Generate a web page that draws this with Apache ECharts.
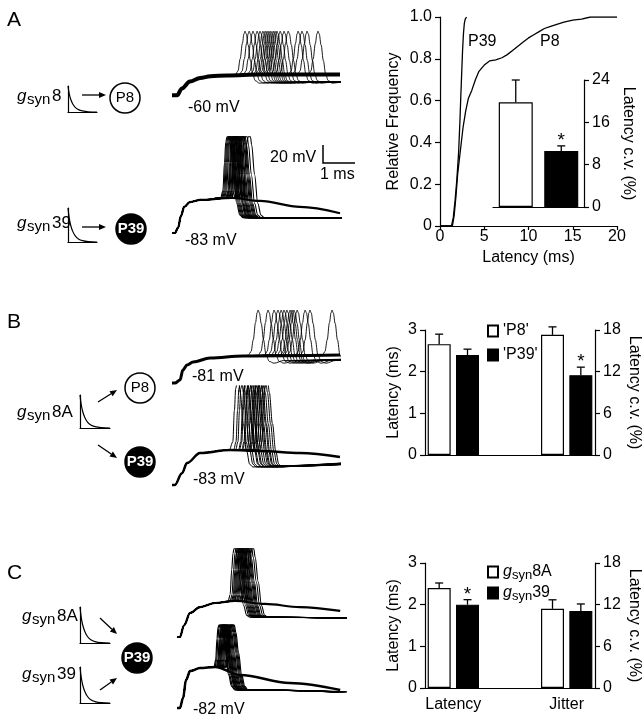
<!DOCTYPE html>
<html><head><meta charset="utf-8">
<script src="https://cdn.jsdelivr.net/npm/echarts@6.0.0/dist/echarts.min.js"></script>
<style>html,body{margin:0;padding:0;background:#fff;}#chart{width:643px;height:720px;}</style>
</head><body><div id="chart"></div>
<script>
const FONT = "'Liberation Sans', Arial, Helvetica, sans-serif";

// ---------- Panel A: cumulative latency distributions (latency ms, relative frequency) ----------
const cdfP39 = [[0,0],[1.3,0],[1.5,0.04],[1.7,0.12],[1.9,0.22],[2.1,0.35],[2.25,0.5],[2.35,0.62],[2.45,0.73],[2.55,0.84],[2.65,0.92],[2.75,0.97],[2.85,0.99],[3.0,1.0]];
const cdfP8 = [[0,0],[1.4,0],[1.6,0.05],[1.8,0.14],[2.0,0.25],[2.3,0.36],[2.6,0.47],[2.9,0.55],[3.2,0.61],[3.6,0.65],[4.0,0.7],[4.4,0.74],[5.0,0.77],[5.6,0.79],[6.3,0.795],[7.0,0.805],[7.6,0.82],[8.2,0.84],[8.8,0.86],[9.4,0.88],[10.0,0.9],[10.6,0.915],[11.2,0.93],[11.8,0.945],[12.5,0.955],[13.2,0.965],[14.0,0.975],[15.0,0.985],[16.0,0.99],[17.0,1.0],[20,1.0]];
const cdfNames = ['P39', 'P8'];
// inset: latency c.v. (%)
const insetGroups = ['P8', 'P39'];
const insetCV = [19.8, 10.6];
const insetCVErr = [4.2, 0.95];
const insetSig = [0, 1];

// ---------- Panel B ----------
const bNames = ["'P8'", "'P39'"];
const bLatency = [2.66, 2.40];
const bLatencyErr = [0.24, 0.14];
const bCV = [17.3, 11.5];
const bCVErr = [1.15, 1.15];
const bLatencySig = [0, 0];
const bCVSig = [0, 1];

// ---------- Panel C ----------
const cNames = ['gsyn8A', 'gsyn39'];
const cLatency = [2.40, 2.00];
const cLatencyErr = [0.12, 0.12];
const cCV = [11.4, 11.1];
const cCVErr = [1.3, 1.0];
const cLatencySig = [0, 1];
const cCVSig = [0, 0];
const groupLabels = ['Latency', 'Jitter'];

// ---------- Voltage traces: time (ms) vs membrane potential (mV) ----------
const restPotentials = [-60, -83, -81, -83, -83, -82];
const restLabels = ['-60 mV', '-83 mV', '-81 mV', '-83 mV', null, '-82 mV'];
// subthreshold (EPSP) waveforms
const baseA1 = [[0,-60],[0.16,-60],[0.31,-52],[0.56,-44],[0.88,-40],[1.2,-38],[1.72,-37],[2.75,-36],[5.25,-36]];
const baseA2 = [[0,-83],[0.09,-83],[0.19,-77],[0.28,-64],[0.38,-54],[0.56,-48.6],[0.88,-46.3],[1.88,-44.1],[2.75,-47.4],[4,-54],[5.25,-61]];
const baseB1 = [[0,-81],[0.09,-81],[0.25,-77.7],[0.34,-66.6],[0.47,-61],[0.66,-57.7],[1.19,-53.2],[2.22,-51],[5.25,-50]];
const baseB2 = [[0,-83],[0.09,-83],[0.31,-70],[0.47,-58.6],[0.88,-47.4],[1.81,-44.1],[2.75,-45.2],[4,-47.4],[5.25,-52]];
const baseC1 = [[0,-83],[0.09,-83],[0.22,-70],[0.41,-56.3],[0.72,-49.7],[1.19,-45.2],[1.81,-43],[2.75,-46.3],[3.84,-49.7],[5.1,-54]];
const baseC2 = [[0,-82],[0.09,-82],[0.19,-71],[0.28,-51],[0.41,-41],[0.72,-37.6],[1.19,-36.4],[1.97,-45.3],[3.53,-54.2],[5.1,-62]];
// spike waveforms, time relative to spike peak
const spikeA1 = [[-0.3,-36],[-0.22,-32],[-0.15,-18],[-0.08,0],[-0.03,11],[0,14],[0.04,11],[0.1,-2],[0.17,-20],[0.24,-35],[0.32,-43],[0.45,-46],[0.7,-45],[3.5,-44]];
const spikeA2 = [[-0.2,-44],[-0.13,-36],[-0.08,-5],[-0.04,18],[0,24],[0.07,24],[0.11,15],[0.2,-18],[0.3,-50],[0.4,-63],[0.5,-66],[3.5,-66]];
const spikeB1 = [[-0.3,-50],[-0.22,-46],[-0.15,-33],[-0.08,-14],[-0.03,-3],[0,0],[0.04,-3],[0.1,-15],[0.17,-33],[0.25,-50],[0.35,-57],[0.5,-59],[0.8,-56],[3,-54]];
const spikeB2 = [[-0.2,-44],[-0.13,-35],[-0.08,0],[-0.04,24],[0,30],[0.06,30],[0.1,20],[0.2,-15],[0.3,-45],[0.4,-60],[0.5,-63],[1.0,-62],[3.5,-58]];
const spikeC1 = [[-0.18,-43],[-0.12,-36],[-0.07,-8],[-0.03,10],[0,15],[0.06,15],[0.1,6],[0.2,-22],[0.3,-48],[0.4,-59],[0.5,-61],[1,-61],[3.5,-62]];
const spikeC2 = [[-0.15,-36.4],[-0.1,-28],[-0.06,-5],[-0.03,7],[0,10],[0.07,10],[0.12,2],[0.2,-20],[0.3,-45],[0.4,-58],[0.5,-62],[1.0,-62],[3.6,-64]];
// spike peak times (ms)
const peaksA1 = [2.28,2.41,2.53,2.66,2.75,2.84,2.91,2.97,3.03,3.09,3.16,3.22,3.28,3.38,3.50,3.63,3.94,4.06,4.22,4.56];
const peaksA2 = [1.72,1.75,1.78,1.81,1.84,1.88,1.91,1.91,1.94,1.97,2.00,2.00,2.03,2.06,2.09,2.13,2.16,2.19,2.22,2.28,2.38];
const peaksB1 = [2.69,3.0,3.19,3.31,3.41,3.5,3.59,3.69,3.75,3.81,3.91,4.16,4.31,5.0];
const peaksB2 = [2.03,2.13,2.19,2.28,2.31,2.38,2.41,2.47,2.53,2.59,2.63,2.66,2.72,2.75,2.81,2.88,2.94];
const peaksC1 = [1.78,1.84,1.88,1.91,1.94,1.97,2.0,2.03,2.06,2.09,2.13,2.16,2.19,2.22,2.28,2.34];
const peaksC2 = [1.31,1.34,1.38,1.41,1.41,1.44,1.47,1.47,1.5,1.53,1.56,1.59,1.63,1.66,1.69,1.72];
// synaptic conductance waveform icon (normalised)
const gsynShape = [[0,1],[0.04,0.72],[0.09,0.5],[0.16,0.32],[0.25,0.18],[0.36,0.09],[0.5,0.04],[0.7,0.01],[1,0]];
const scaleBarMV = 20, scaleBarMS = 1;

// ================= layout =================
const PXMS = 32, PXMV = 0.9, TMAX = 5.25;
const traceSets = [
  {base: baseA1, tpl: spikeA1, peaks: peaksA1, x0: 172, yRest: 95,  bw: 4,   sw: 0.9},
  {base: baseA2, tpl: spikeA2, peaks: peaksA2, x0: 172, yRest: 233, bw: 2.2, sw: 1.1},
  {base: baseB1, tpl: spikeB1, peaks: peaksB1, x0: 172, yRest: 383, bw: 3,   sw: 0.9},
  {base: baseB2, tpl: spikeB2, peaks: peaksB2, x0: 172, yRest: 485, bw: 2.5, sw: 1.0},
  {base: baseC1, tpl: spikeC1, peaks: peaksC1, x0: 177, yRest: 637, bw: 2.2, sw: 1.1},
  {base: baseC2, tpl: spikeC2, peaks: peaksC2, x0: 177, yRest: 708, bw: 2.5, sw: 1.2}
];
const glyphLayout = [
  {left: 68, top: 86, width: 29, height: 26},
  {left: 68, top: 208, width: 29, height: 34},
  {left: 80, top: 395, width: 30, height: 33},
  {left: 80, top: 607, width: 30, height: 36},
  {left: 80, top: 667, width: 30, height: 36}
];

const black = '#000';
const lineSt = {color: black, width: 1.2};
const labelSt = {color: black, fontSize: 16, fontFamily: FONT};
function valueAxis(extra) {
  return Object.assign({
    type: 'value',
    axisLine: {show: true, onZero: false, lineStyle: lineSt},
    axisTick: {show: true, length: 5, lineStyle: lineSt},
    axisLabel: Object.assign({margin: 8}, labelSt),
    splitLine: {show: false},
    nameTextStyle: {color: black, fontSize: 16, fontFamily: FONT}
  }, extra);
}

const grid = [], xAxis = [], yAxis = [], series = [];

// --- A main CDF ---
grid.push({left: 440, top: 17, width: 177, height: 209});
xAxis.push(valueAxis({gridIndex: 0, min: 0, max: 20, interval: 5,
  axisTick: {show: true, length: 4, lineStyle: lineSt},
  axisLabel: Object.assign({margin: 3}, labelSt),
  name: 'Latency (ms)', nameLocation: 'middle', nameGap: 24}));
yAxis.push(valueAxis({gridIndex: 0, min: 0, max: 1, interval: 0.2,
  axisLabel: Object.assign({margin: 8, formatter: v => v === 0 ? '0' : v.toFixed(1)}, labelSt),
  name: 'Relative Frequency', nameLocation: 'middle', nameGap: 38}));
[cdfP39, cdfP8].forEach((d, i) => series.push({
  type: 'line', name: cdfNames[i], xAxisIndex: 0, yAxisIndex: 0, data: d,
  showSymbol: false, silent: true, lineStyle: {color: black, width: 1.3}, z: 3
}));

// --- A inset ---
grid.push({left: 493, top: 80, width: 91, height: 127});
xAxis.push({type: 'category', gridIndex: 1, data: insetGroups,
  axisLine: {show: true, onZero: false, lineStyle: lineSt}, axisTick: {show: false}, axisLabel: {show: false}});
yAxis.push(valueAxis({gridIndex: 1, position: 'right', min: 0, max: 24, interval: 8,
  name: 'Latency c.v. (%)', nameLocation: 'middle', nameRotate: -90, nameGap: 36}));
series.push({type: 'bar', xAxisIndex: 1, yAxisIndex: 1, barWidth: 34, silent: true,
  data: insetCV.map((v, i) => ({value: v, itemStyle: {color: i === 0 ? '#fff' : black, borderColor: black, borderWidth: 1.2}}))});

function errSeries(xi, yi, data, cap) {
  return {
    type: 'custom', xAxisIndex: xi, yAxisIndex: yi, data, z: 5, silent: true,
    renderItem: (params, api) => {
      const x = api.value(0), v = api.value(1), e = api.value(2), s = api.value(3);
      const p0 = api.coord([x, v]), p1 = api.coord([x, v + e]);
      const ch = [
        {type: 'line', shape: {x1: p0[0], y1: p0[1], x2: p1[0], y2: p1[1]}, style: {stroke: black, lineWidth: 1.3}},
        {type: 'line', shape: {x1: p1[0] - cap / 2, y1: p1[1], x2: p1[0] + cap / 2, y2: p1[1]}, style: {stroke: black, lineWidth: 1.3}}
      ];
      if (s) ch.push({type: 'text', x: p1[0], y: p1[1] - 5,
        style: {text: '*', fontSize: 19, fontFamily: FONT, fill: black, align: 'center', verticalAlign: 'middle'}});
      return {type: 'group', children: ch};
    }
  };
}
series.push(errSeries(1, 1, insetCV.map((v, i) => [i, v, insetCVErr[i], insetSig[i]]), 8));

// --- B and C bar charts (value x axis with 6 slots) ---
function barPanel(top, names, lat, latErr, latSig, cv, cvErr, cvSig, showLabels) {
  const gi = grid.length;
  grid.push({left: 425, top, width: 171, height: 125});
  const xi = xAxis.length;
  xAxis.push({type: 'value', gridIndex: gi, min: 0, max: 6,
    axisLine: {show: true, onZero: false, lineStyle: lineSt},
    axisTick: {show: false}, splitLine: {show: false},
    axisLabel: showLabels ? Object.assign({show: true, margin: 9, customValues: [1, 5],
      formatter: v => groupLabels[v < 3 ? 0 : 1]}, labelSt) : {show: false}});
  const yl = yAxis.length;
  yAxis.push(valueAxis({gridIndex: gi, min: 0, max: 3, interval: 1,
    name: 'Latency (ms)', nameLocation: 'middle', nameGap: 23}));
  yAxis.push(valueAxis({gridIndex: gi, position: 'right', min: 0, max: 18, interval: 6,
    name: 'Latency c.v. (%)', nameLocation: 'middle', nameRotate: -90, nameGap: 31}));
  [[lat, latErr, latSig, yl], [cv, cvErr, cvSig, yl + 1]].forEach(([vals, errs, sig, yi], g) => {
    vals.forEach((v, s) => {
      series.push({type: 'bar', name: names[s], xAxisIndex: xi, yAxisIndex: yi, barWidth: 23, barGap: '-100%', silent: true,
        itemStyle: {color: s === 0 ? '#fff' : black, borderColor: black, borderWidth: 1.2},
        data: [[g * 4 + s + 0.5, v]]});
    });
    series.push(errSeries(xi, yi, vals.map((v, s) => [g * 4 + s + 0.5, v, errs[s], sig[s]]), 8));
  });
}
barPanel(330, bNames, bLatency, bLatencyErr, bLatencySig, bCV, bCVErr, bCVSig, false);
barPanel(563, cNames, cLatency, cLatencyErr, cLatencySig, cCV, cCVErr, cCVSig, true);

// --- voltage traces ---
traceSets.forEach((tr, k) => {
  const gi = grid.length, xi = xAxis.length, yi = yAxis.length, vRest = restPotentials[k];
  grid.push({left: tr.x0, top: tr.yRest - 110 * PXMV, width: TMAX * PXMS, height: 120 * PXMV});
  xAxis.push({type: 'value', gridIndex: gi, min: 0, max: TMAX, show: false});
  yAxis.push({type: 'value', gridIndex: gi, min: vRest - 10, max: vRest + 110, show: false});
  const common = {type: 'line', xAxisIndex: xi, yAxisIndex: yi, showSymbol: false, silent: true,
    smooth: 0.35, smoothMonotone: 'x'};
  tr.peaks.forEach(tp => {
    const start = tp + tr.tpl[0][0];
    const pts = tr.base.filter(p => p[0] < start).map(p => p.slice());
    tr.tpl.forEach(p => pts.push([tp + p[0], p[1]]));
    series.push(Object.assign({}, common, {data: pts, lineStyle: {color: black, width: tr.sw}}));
  });
  series.push(Object.assign({}, common, {data: tr.base, lineStyle: {color: black, width: tr.bw}, z: 3}));
});

// --- gsyn waveform icons ---
glyphLayout.forEach(gl => {
  const gi = grid.length, xi = xAxis.length, yi = yAxis.length;
  grid.push(gl);
  xAxis.push({type: 'value', gridIndex: gi, min: 0, max: 1, axisLine: {show: true, onZero: false, lineStyle: lineSt},
    axisTick: {show: false}, axisLabel: {show: false}, splitLine: {show: false}});
  yAxis.push({type: 'value', gridIndex: gi, min: 0, max: 1, axisLine: {show: true, onZero: false, lineStyle: lineSt},
    axisTick: {show: false}, axisLabel: {show: false}, splitLine: {show: false}});
  series.push({type: 'line', xAxisIndex: xi, yAxisIndex: yi, data: gsynShape, showSymbol: false, silent: true,
    smooth: 0.4, lineStyle: {color: black, width: 1.2}});
});

// ================= decorations =================
function T(x, base, text, fs, extra) {
  return {type: 'text', x, y: base - 0.35 * fs, silent: true,
    style: Object.assign({text, fontSize: fs, fontFamily: FONT, fill: black, align: 'left', verticalAlign: 'middle'}, extra || {})};
}
function gsyn(x, base, suffix) {
  return [T(x, base, 'g', 17, {fontStyle: 'italic'}), T(x + 10, base + 3, 'syn', 15), T(x + 35, base, suffix, 17)];
}
function arrow(x1, y1, x2, y2) {
  const a = Math.atan2(y2 - y1, x2 - x1), L = 7, W = 3;
  const bx = x2 - L * Math.cos(a), by = y2 - L * Math.sin(a);
  const px = -Math.sin(a) * W, py = Math.cos(a) * W;
  return [{type: 'line', shape: {x1, y1, x2: bx, y2: by}, style: {stroke: black, lineWidth: 1.3}, silent: true},
    {type: 'polygon', shape: {points: [[x2, y2], [bx + px, by + py], [bx - px, by - py]]}, style: {fill: black}, silent: true}];
}
function cell(cx, cy, label, filled) {
  return [{type: 'circle', shape: {cx, cy, r: 15}, style: {fill: filled ? black : '#fff', stroke: black, lineWidth: 1.5}, silent: true},
    {type: 'text', x: cx, y: cy, silent: true, style: {text: label, fontSize: 15, fontFamily: FONT, fontWeight: filled ? 'bold' : 'normal',
      fill: filled ? '#fff' : black, align: 'center', verticalAlign: 'middle'}}];
}
const sbX = 323, sbY = 163;
const graphic = [
  T(7, 28, 'A', 21), T(7, 330, 'B', 21), T(7, 581, 'C', 21),
  ...gsyn(17, 102, '8'), ...gsyn(17, 229, '39'), ...gsyn(17, 418, '8A'), ...gsyn(22, 622, '8A'), ...gsyn(22, 680, '39'),
  ...arrow(82, 95, 106, 95), ...arrow(82, 227, 106, 227),
  ...arrow(98, 402, 117, 390), ...arrow(98, 445, 117, 458),
  ...arrow(100, 618, 117, 634), ...arrow(100, 690, 117, 678),
  ...cell(125, 98, 'P8', false), ...cell(131, 229, 'P39', true),
  ...cell(140, 388, 'P8', false), ...cell(140, 462, 'P39', true), ...cell(137, 658, 'P39', true),
  T(188, 113, restLabels[0], 16), T(185, 246, restLabels[1], 16), T(192, 382, restLabels[2], 16),
  T(193, 485, restLabels[3], 16), T(193, 715, restLabels[5], 16),
  T(270, 163, scaleBarMV + ' mV', 16), T(320, 180, scaleBarMS + ' ms', 16),
  {type: 'polyline', silent: true, shape: {points: [[sbX, sbY - scaleBarMV * PXMV], [sbX, sbY], [sbX + scaleBarMS * PXMS, sbY]]},
    style: {stroke: black, lineWidth: 1.5}},
  T(468, 47, cdfNames[0], 16), T(540, 47, cdfNames[1], 16)
];

const legendBase = {orient: 'vertical', left: 487, padding: 0, itemWidth: 10, itemHeight: 11, icon: 'rect',
  selectedMode: false, textStyle: {color: black, fontSize: 16, fontFamily: FONT}};
const option = {
  animation: false,
  backgroundColor: '#fff',
  textStyle: {fontFamily: FONT, color: black},
  grid, xAxis, yAxis, series, graphic,
  legend: [
    Object.assign({}, legendBase, {top: 323, itemGap: 8, data: bNames}),
    Object.assign({}, legendBase, {top: 564, itemGap: 3, data: cNames,
      formatter: n => '{g|g}{s|syn}{n|' + n.slice(4) + '}',
      textStyle: Object.assign({}, legendBase.textStyle, {rich: {
        g: {fontSize: 16, fontStyle: 'italic', fontFamily: FONT, color: black, lineHeight: 20, verticalAlign: 'middle'},
        s: {fontSize: 13, fontFamily: FONT, color: black, lineHeight: 13, verticalAlign: 'bottom'},
        n: {fontSize: 16, fontFamily: FONT, color: black, lineHeight: 20, verticalAlign: 'middle'}}})})
  ]
};
const chart = echarts.init(document.getElementById('chart'), null, {renderer: 'canvas'});
chart.setOption(option);
</script></body></html>
